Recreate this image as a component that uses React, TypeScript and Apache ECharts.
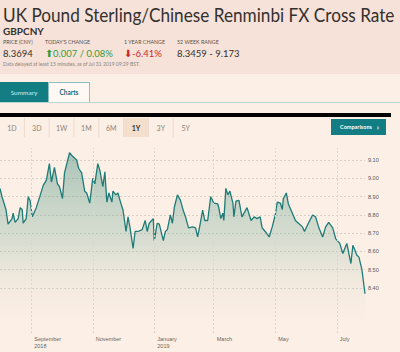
import React, { useEffect, useRef } from "react";
import * as echarts from "echarts";

const dates = [
  "2018-08-01","2018-08-03","2018-08-07","2018-08-09","2018-08-13","2018-08-14","2018-08-16","2018-08-19",
  "2018-08-21","2018-08-23","2018-08-24","2018-08-27","2018-08-29","2018-08-31","2018-09-02","2018-09-06",
  "2018-09-10","2018-09-13","2018-09-16","2018-09-19","2018-09-21","2018-09-24","2018-09-27","2018-09-29",
  "2018-10-02","2018-10-04","2018-10-09","2018-10-12","2018-10-16","2018-10-18","2018-10-21","2018-10-24",
  "2018-10-26","2018-10-29","2018-11-01","2018-11-03","2018-11-06","2018-11-08","2018-11-11","2018-11-13",
  "2018-11-15","2018-11-17","2018-11-20","2018-11-21","2018-11-24","2018-11-26","2018-11-28","2018-12-01",
  "2018-12-04","2018-12-06","2018-12-08","2018-12-11","2018-12-13","2018-12-16","2018-12-20","2018-12-23",
  "2018-12-25","2018-12-27","2018-12-31","2019-01-01","2019-01-04","2019-01-06","2019-01-10","2019-01-12",
  "2019-01-14","2019-01-17","2019-01-19","2019-01-21","2019-01-24","2019-01-27","2019-01-30","2019-02-01",
  "2019-02-04","2019-02-08","2019-02-11","2019-02-13","2019-02-15","2019-02-18","2019-02-20","2019-02-23",
  "2019-02-26","2019-03-01","2019-03-05","2019-03-06","2019-03-08","2019-03-10","2019-03-11","2019-03-13",
  "2019-03-15","2019-03-17","2019-03-20","2019-03-21","2019-03-23","2019-03-26","2019-03-29","2019-04-03",
  "2019-04-07","2019-04-10","2019-04-13","2019-04-16","2019-04-18","2019-04-21","2019-04-25","2019-04-28",
  "2019-05-01","2019-05-03","2019-05-06","2019-05-08","2019-05-09","2019-05-12","2019-05-14","2019-05-18",
  "2019-05-21","2019-05-24","2019-05-28","2019-05-30","2019-06-02","2019-06-07","2019-06-10","2019-06-13",
  "2019-06-17","2019-06-20","2019-06-23","2019-06-27","2019-06-30","2019-07-04","2019-07-07","2019-07-11",
  "2019-07-15","2019-07-17","2019-07-21","2019-07-23","2019-07-26","2019-07-29",
];
const rates = [
  8.945, 8.90, 8.827, 8.75, 8.78, 8.81, 8.76, 8.78,
  8.84, 8.83, 8.755, 8.78, 8.90, 8.875, 8.79, 8.84,
  8.91, 8.963, 8.99, 9.08, 8.98, 9.06, 8.97, 8.955,
  8.89, 9.03, 9.14, 9.12, 9.10, 9.055, 9.03, 8.93,
  8.92, 8.865, 9.00, 8.97, 9.08, 9.045, 8.955, 9.035,
  8.87, 8.92, 8.87, 8.93, 8.91, 8.92, 8.88, 8.827,
  8.71, 8.79, 8.73, 8.617, 8.71, 8.71, 8.72, 8.77,
  8.71, 8.755, 8.78, 8.66, 8.755, 8.75, 8.66, 8.71,
  8.72, 8.80, 8.755, 8.845, 8.91, 8.88, 8.82, 8.79,
  8.73, 8.735, 8.73, 8.68, 8.735, 8.827, 8.77, 8.77,
  8.90, 8.865, 8.86, 8.84, 8.78, 8.81, 8.77, 8.945,
  8.91, 8.93, 8.865, 8.79, 8.875, 8.88, 8.79, 8.84,
  8.77, 8.79, 8.78, 8.79, 8.73, 8.71, 8.68, 8.735,
  8.80, 8.87, 8.865, 8.83, 8.89, 8.92, 8.86, 8.81,
  8.77, 8.755, 8.735, 8.71, 8.745, 8.80, 8.79, 8.735,
  8.68, 8.735, 8.76, 8.73, 8.67, 8.645, 8.59, 8.645,
  8.535, 8.635, 8.58, 8.57, 8.50, 8.37,
];
const monthTicks = ["2018-09-01", "2018-11-01", "2019-01-01", "2019-03-01", "2019-05-01", "2019-07-01"];
const monthLabels = ["September\n2018", "November", "January\n2019", "March", "May", "July"];
const periods = ["1D", "3D", "1W", "1M", "6M", "1Y", "3Y", "5Y"];
const activePeriod = "1Y";

const BG = "#fcefe5";
const HEADER_BG = "#f6e2d8";
const TEAL = "#127d82";
const LINE = "#1d7b78";

function txt(x: number, y: number, text: string, font: string, fill: string, align = "left", extra: any = {}) {
  return {
    type: "text",
    x,
    y,
    silent: true,
    ...extra,
    style: { text, font, fill, align, verticalAlign: "middle" },
  };
}

export default function App() {
  const ref = useRef<HTMLDivElement>(null);
  useEffect(() => {
    if (!ref.current) return;
    const chart = echarts.init(ref.current, null, { renderer: "svg" });
    const series = dates.map((d, i) => [d, rates[i]]);
    const sans = "Lato, 'Open Sans', sans-serif";

    const periodEls: any[] = [];
    periods.forEach((p, i) => {
      const cx = 12 + i * 24.8;
      if (p === activePeriod) {
        periodEls.push({ type: "rect", shape: { x: cx - 12, y: 118, width: 24.5, height: 19 }, style: { fill: "#f3dfcc" }, silent: true });
      }
      periodEls.push(txt(cx, 127.5, p, (p === activePeriod ? "bold " : "") + "7px " + sans, p === activePeriod ? "#333" : "#8a8480", "center"));
      if (i < periods.length - 1) {
        periodEls.push({ type: "line", shape: { x1: cx + 12.4, y1: 118, x2: cx + 12.4, y2: 137 }, style: { stroke: "#eadbd0", lineWidth: 1 }, silent: true });
      }
    });

    const graphic: any[] = [
      { type: "rect", shape: { x: 0, y: 0, width: 400, height: 74 }, style: { fill: HEADER_BG }, silent: true, z: -10 },
      txt(3, 14.5, "UK Pound Sterling/Chinese Renminbi FX Cross Rate", "19px " + sans, "#33302e", "left", { scaleX: 0.905 }),
      txt(3, 30.5, "GBPCNY", "bold 10px " + sans, "#33302e"),
      txt(3, 42, "PRICE (CNY)", "5.3px " + sans, "#55504c"),
      txt(45, 42, "TODAY'S CHANGE", "5.3px " + sans, "#55504c"),
      txt(124, 42, "1 YEAR CHANGE", "5.3px " + sans, "#55504c"),
      txt(177, 42, "52 WEEK RANGE", "5.3px " + sans, "#55504c"),
      txt(3, 53, "8.3694", "9.5px " + sans, "#33302e"),
      txt(45, 53, "⬆0.007 / 0.08%", "9.5px " + sans, "#3a9a3a"),
      txt(124, 53, "⬇-6.41%", "9.5px " + sans, "#cc2a2a"),
      txt(177, 53, "8.3459 - 9.173", "9.5px " + sans, "#33302e"),
      txt(3, 63.5, "Data delayed at least 15 minutes, as of Jul 31 2019 09:29 BST.", "5px " + sans, "#8a8480"),
      { type: "rect", shape: { x: 0, y: 82, width: 48, height: 20 }, style: { fill: TEAL }, silent: true },
      txt(24, 92, "Summary", "6.5px " + sans, "#d8eeee", "center"),
      { type: "rect", shape: { x: 48.5, y: 82.5, width: 41, height: 20 }, style: { fill: "#fff8f3", stroke: "#8fc0c0", lineWidth: 1 }, silent: true },
      txt(69, 92, "Charts", "bold 6.5px " + sans, "#1f6a70", "center"),
      { type: "line", shape: { x1: 0, y1: 102.5, x2: 400, y2: 102.5 }, style: { stroke: "#b9d6d4", lineWidth: 1 }, silent: true },
      { type: "rect", shape: { x: 0, y: 113, width: 391, height: 4 }, style: { fill: "#000" }, silent: true },
      { type: "rect", shape: { x: 331, y: 119, width: 55, height: 16 }, style: { fill: TEAL }, silent: true },
      txt(356, 127, "Comparisons", "bold 5.5px " + sans, "#ffffff", "center"),
      txt(378, 127, "›", "bold 8px " + sans, "#ffffff", "center"),
      ...periodEls,
    ];

    chart.setOption({
      animation: false,
      backgroundColor: BG,
      graphic,
      grid: [
        { left: 0, right: 33, top: 148, bottom: 19 },
        { left: 0, right: 35, top: 160, bottom: 64 },
      ],
      xAxis: [
        {
          type: "time",
          gridIndex: 0,
          min: "2018-08-01",
          max: "2019-07-31",
          axisLine: { show: false },
          axisTick: { show: false },
          splitLine: { show: false },
          axisLabel: { show: false },
        },
        { type: "value", gridIndex: 1, min: 0, max: 1, show: false },
      ],
      yAxis: [
        { type: "value", gridIndex: 0, min: 8.156, max: 9.1655, show: false, splitLine: { show: false } },
        {
          type: "value",
          gridIndex: 1,
          position: "right",
          min: 8.4,
          max: 9.1,
          interval: 0.1,
          axisLine: { show: false },
          axisTick: { show: false },
          splitLine: { show: true, lineStyle: { color: "#d9cfc6", type: [2, 2], width: 1 } },
          axisLabel: {
            margin: 3,
            fontSize: 5.5,
            color: "#555",
            fontFamily: "Liberation Sans, Arial, sans-serif",
            formatter: (v: number) => v.toFixed(2),
          },
        },
      ],
      series: [
        {
          type: "line",
          xAxisIndex: 1,
          yAxisIndex: 1,
          data: [],
          silent: true,
        },
        {
          type: "line",
          xAxisIndex: 0,
          yAxisIndex: 0,
          data: [],
          silent: true,
          z: 1,
          markLine: {
            silent: true,
            symbol: "none",
            animation: false,
            lineStyle: { color: "#ded4cb", type: [2, 2], width: 1 },
            label: {
              show: true,
              position: "start",
              align: "left",
              verticalAlign: "top",
              distance: 2,
              offset: [3, 0],
              fontSize: 5.5,
              lineHeight: 7,
              color: "#6b6560",
              fontFamily: "Liberation Sans, Arial, sans-serif",
              formatter: (p: any) => monthLabels[p.dataIndex],
            },
            data: monthTicks.map((d) => ({ xAxis: d })),
          },
        },
        {
          type: "line",
          xAxisIndex: 0,
          yAxisIndex: 0,
          data: series,
          showSymbol: false,
          symbol: "none",
          lineStyle: { color: LINE, width: 1.3 },
          areaStyle: {
            color: new echarts.graphic.LinearGradient(0, 0, 0, 1, [
              { offset: 0, color: "rgba(55,135,120,0.6)" },
              { offset: 0.5, color: "rgba(110,170,150,0.35)" },
              { offset: 0.78, color: "rgba(200,210,195,0.18)" },
              { offset: 1, color: "rgba(252,239,229,0)" },
            ]),
          },
          z: 3,
        },
      ],
    });
    return () => chart.dispose();
  }, []);
  return <div ref={ref} style={{ position: "fixed", left: 0, top: 0, width: 400, height: 352 }} />;
}
